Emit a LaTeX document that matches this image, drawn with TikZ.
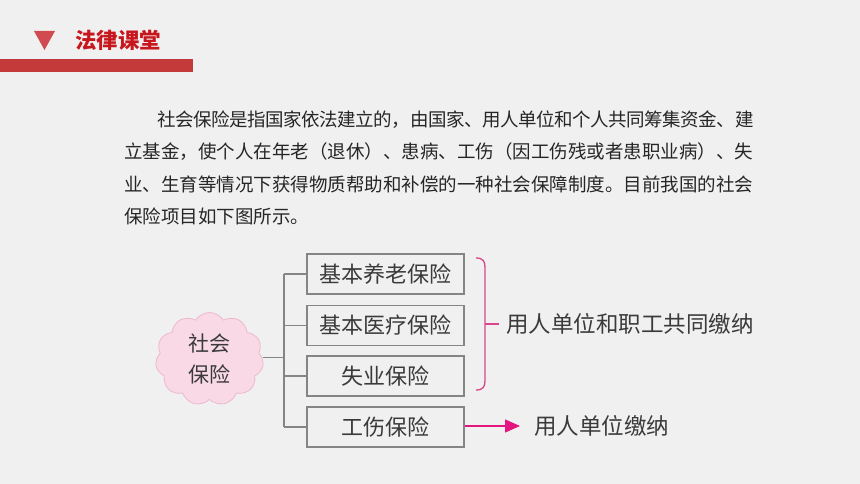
\documentclass[tikz,border=0pt]{standalone}
\usepackage{fontspec}
\usetikzlibrary{shapes.symbols,arrows.meta}
\newfontfamily\cjk{Noto Sans CJK SC}
\newfontfamily\cjktight{Noto Sans CJK SC}[LetterSpace=-2.4]
\definecolor{bg}{HTML}{F0F0F0}
\definecolor{hdred}{HTML}{C8161D}
\definecolor{barred}{HTML}{C43A3A}
\definecolor{trired}{HTML}{D04A50}
\definecolor{txt}{HTML}{262626}
\definecolor{dtxt}{HTML}{3A3A3A}
\definecolor{boxline}{HTML}{858585}
\definecolor{mag}{HTML}{E4157F}
\definecolor{brk}{HTML}{D9468C}
\definecolor{cloudfill}{HTML}{F9D9E6}
\definecolor{cloudline}{HTML}{EDB8CF}
\tikzset{
  para/.style={anchor=west, inner sep=0pt, text=txt, font=\cjk\fontsize{18.5pt}{20pt}\selectfont},
  itembox/.style={draw=boxline, line width=1.4pt, minimum width=157pt, minimum height=40pt, inner sep=0pt, text=dtxt, font=\cjk\fontsize{22pt}{24pt}\selectfont},
  tree/.style={draw=boxline, line width=1.4pt},
  note/.style={anchor=west, inner sep=0pt, text=dtxt, font=\cjk\fontsize{22.5pt}{24pt}\selectfont},
}
\begin{document}
\begin{tikzpicture}[x=1pt,y=-1pt]
\fill[bg] (0,0) rectangle (860,484);
\useasboundingbox (0,0) rectangle (860,484);
% header
\fill[trired] (34,31) -- (55,31) -- (44.5,50) -- cycle;
\node[anchor=west, inner sep=0pt, text=hdred, font=\cjk\bfseries\fontsize{21.4pt}{23pt}\selectfont] (title) at (75,40) {法律课堂};
\fill[barred] (0,59) rectangle (193,72);
% paragraph
\node[para, font=\cjktight\fontsize{18.5pt}{20pt}\selectfont] (l1) at (157,120) {社会保险是指国家依法建立的，由国家、用人单位和个人共同筹集资金、建};
\node[para] (l2) at (124,152) {立基金，使个人在年老（退休）、患病、工伤（因工伤残或者患职业病）、失};
\node[para] (l3) at (124,184.5) {业、生育等情况下获得物质帮助和补偿的一种社会保障制度。目前我国的社会};
\node[para] (l4) at (124,216.5) {保险项目如下图所示。};
% cloud
\node[cloud, cloud puffs=11, cloud puff arc=115, draw=cloudline, fill=cloudfill, line width=0.8pt,
      minimum width=108pt, minimum height=93pt, inner sep=0pt, align=center, text=dtxt,
      font=\cjk\fontsize{21pt}{31pt}\selectfont] (cl) at (209.5,359) {社会\\保险};
% boxes
\node[itembox] (b1) at (385.5,274) {基本养老保险};
\node[itembox] (b2) at (385.5,325.5) {基本医疗保险};
\node[itembox] (b3) at (385.5,376) {失业保险};
\node[itembox] (b4) at (385.5,427) {工伤保险};
% tree connectors
\coordinate (j) at (284,357.5);
\draw[tree] (cl.east |- j) -- (j);
\draw[tree] (j |- b1.west) -- (j |- b4.west);
\draw[tree] (j |- b1.west) -- (b1.west);
\draw[tree] (j |- b2.west) -- (b2.west);
\draw[tree] (j |- b3.west) -- (b3.west);
\draw[tree] (j |- b4.west) -- (b4.west);
% bracket
\coordinate (bt) at (476,258);
\coordinate (bb) at (476,390);
\coordinate (bm) at (485,324);
\node[note] (pay1) at (506,324) {用人单位和职工共同缴纳};
\draw[brk, line width=1.3pt] (bt) .. controls (484,258) and (485,262) .. (485,268) -- (485,380) .. controls (485,386) and (484,390) .. (bb);
\draw[brk, line width=1.3pt] (bm) -- ([xshift=-7pt]pay1.west);
% arrow
\node[note] (pay2) at (534,426) {用人单位缴纳};
\draw[mag, line width=1.3pt, -{Triangle[length=15pt,width=13pt]}] (b4.east |- pay2.west) -- ([xshift=-14pt]pay2.west);
\end{tikzpicture}
\end{document}
